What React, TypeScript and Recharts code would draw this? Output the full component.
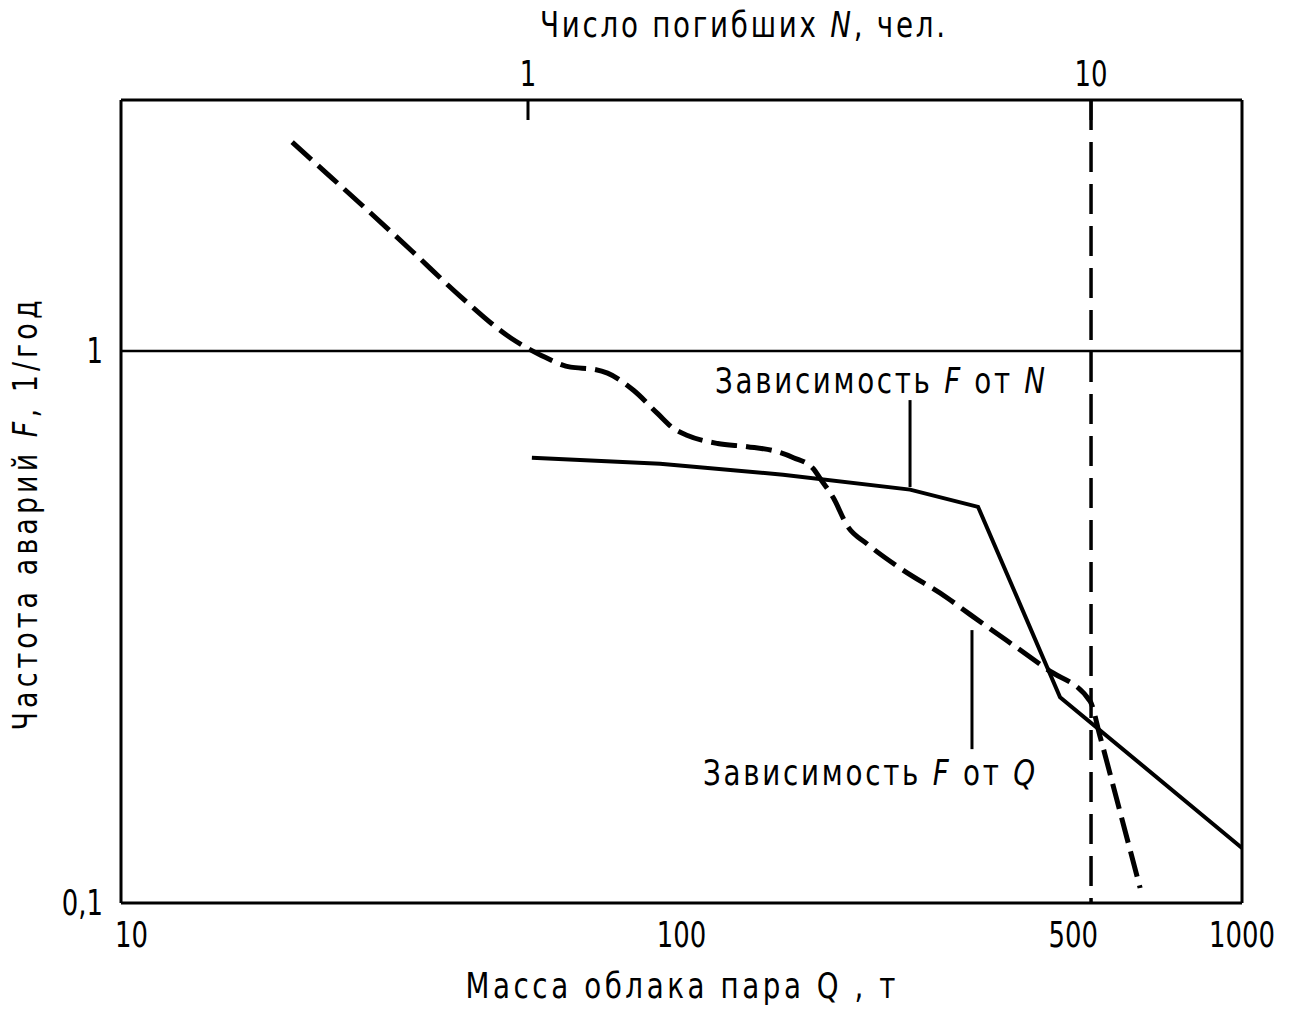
import { Label, Line, LineChart, ReferenceLine, XAxis, YAxis } from 'recharts';

// F vs Q (dashed) — cloud mass Q, t
const fromQ = [
  { q: 20.2, f: 2.39 },
  { q: 22.0, f: 2.21 },
  { q: 26.8, f: 1.845 },
  { q: 33.1, f: 1.515 },
  { q: 40.4, f: 1.254 },
  { q: 49.6, f: 1.056 },
  { q: 56.1, f: 0.983 },
  { q: 63.4, f: 0.935 },
  { q: 69.7, f: 0.927 },
  { q: 73.8, f: 0.912 },
  { q: 82.1, f: 0.849 },
  { q: 90.6, f: 0.771 },
  { q: 96.8, f: 0.724 },
  { q: 102.5, f: 0.703 },
  { q: 116.0, f: 0.68 },
  { q: 131.1, f: 0.671 },
  { q: 148.3, f: 0.657 },
  { q: 158.4, f: 0.641 },
  { q: 171.9, f: 0.612 },
  { q: 176.9, f: 0.587 },
  { q: 186.6, f: 0.542 },
  { q: 197.7, f: 0.482 },
  { q: 214.6, f: 0.447 },
  { q: 245.7, f: 0.404 },
  { q: 298.1, f: 0.357 },
  { q: 327.5, f: 0.333 },
  { q: 449.3, f: 0.265 },
  { q: 535.9, f: 0.232 },
  { q: 558.4, f: 0.2 },
  { q: 606.2, f: 0.146 },
  { q: 658.0, f: 0.1065 },
];

// F vs N (solid) — number of fatalities N
const fromN = [
  { n: 1.016, f: 0.641 },
  { n: 1.716, f: 0.625 },
  { n: 2.838, f: 0.597 },
  { n: 4.77, f: 0.561 },
  { n: 6.3, f: 0.522 },
  { n: 8.81, f: 0.236 },
  { n: 18.54, f: 0.1258 },
];

const qTicks = [10, 100, 500, 1000];
const nTicks = [1, 10];
const fTicks = [0.1, 1];

const qDomain = [10, 1000];
const nDomain = [0.1893, 18.54];
const fDomain = [0.1, 2.85];

// leader lines of the two captions
const leaderN = [{ x: 4.77, y: 0.815 }, { x: 4.77, y: 0.567 }];
const leaderQ = [{ x: 329.8, y: 0.3122 }, { x: 329.8, y: 0.19 }];

const FONT = "'DejaVu Sans Condensed', 'Liberation Sans Narrow', 'DejaVu Sans', sans-serif";
const INK = '#000';

const formatF = (v: number) => String(v).replace('.', ',');

// squeeze glyphs horizontally around an anchor point
const squeeze = (x: number, y: number, k: number) => `translate(${x},${y}) scale(${k},1) translate(${-x},${-y})`;

const TopTick = ({ x, y, payload }: any) => (
  <g>
    <text x={x} y={y - 2} transform={squeeze(x, y, 0.8)} textAnchor="middle" fontFamily={FONT} fontSize={36} fill={INK}>
      {payload.value}
    </text>
    <line x1={x} x2={x} y1={y + 12} y2={y + 32} stroke={INK} strokeWidth={3} />
  </g>
);

const BottomTick = ({ x, y, payload, index }: any) => {
  const tx = index === 0 ? x - 6 : x;
  return (
    <text
      x={tx}
      y={y + 24}
      transform={squeeze(tx, y, 0.8)}
      textAnchor={index === 0 ? 'start' : 'middle'}
      fontFamily={FONT}
      fontSize={36}
      fill={INK}
    >
      {payload.value}
    </text>
  );
};

const LeftTick = ({ x, y, payload }: any) => (
  <text x={x} y={y + 12} transform={squeeze(x, y, 0.8)} textAnchor="end" fontFamily={FONT} fontSize={36} fill={INK}>
    {formatF(payload.value)}
  </text>
);

const K = 0.88;

const TopTitle = ({ viewBox }: any) => {
  const cx = viewBox.x + viewBox.width / 2 + 61;
  const cy = viewBox.y + 37;
  return (
    <text
      x={cx}
      y={cy}
      transform={squeeze(cx, cy, K)}
      textAnchor="middle"
      fontFamily={FONT}
      fontSize={35}
      fill={INK}
      textLength={405 / K}
      lengthAdjust="spacing"
    >
      Число погибших <tspan fontStyle="italic">N</tspan>, чел.
    </text>
  );
};

const BottomTitle = ({ viewBox }: any) => {
  const cx = viewBox.x + viewBox.width / 2 - 1;
  const cy = viewBox.y + 95;
  return (
    <text
      x={cx}
      y={cy}
      transform={squeeze(cx, cy, K)}
      textAnchor="middle"
      fontFamily={FONT}
      fontSize={35}
      fill={INK}
      textLength={430 / K}
      lengthAdjust="spacing"
    >
      Масса облака пара Q , т
    </text>
  );
};

const SideTitle = ({ viewBox }: any) => {
  const cx = 37;
  const cy = viewBox.y + viewBox.height / 2 + 14;
  return (
    <text
      x={cx}
      y={cy}
      transform={`rotate(-90, ${cx}, ${cy}) ${squeeze(cx, cy, K)}`}
      textAnchor="middle"
      fontFamily={FONT}
      fontSize={34}
      fill={INK}
      textLength={430 / K}
      lengthAdjust="spacing"
    >
      Частота аварий <tspan fontStyle="italic">F</tspan>, 1/год
    </text>
  );
};

const CaptionN = ({ viewBox }: any) => {
  const cx = viewBox.x - 30;
  const cy = viewBox.y - 7;
  return (
    <text
      x={cx}
      y={cy}
      transform={squeeze(cx, cy, K)}
      textAnchor="middle"
      fontFamily={FONT}
      fontSize={35}
      fill={INK}
      textLength={330 / K}
      lengthAdjust="spacing"
    >
      Зависимость <tspan fontStyle="italic">F</tspan> от <tspan fontStyle="italic">N</tspan>
    </text>
  );
};

const CaptionQ = ({ viewBox }: any) => {
  const cx = viewBox.x - 103;
  const cy = viewBox.y + viewBox.height + 36;
  return (
    <text
      x={cx}
      y={cy}
      transform={squeeze(cx, cy, K)}
      textAnchor="middle"
      fontFamily={FONT}
      fontSize={35}
      fill={INK}
      textLength={332 / K}
      lengthAdjust="spacing"
    >
      Зависимость <tspan fontStyle="italic">F</tspan> от <tspan fontStyle="italic">Q</tspan>
    </text>
  );
};

export default function App() {
  return (
    <div style={{ position: 'absolute', left: 0, top: 0, width: 1313, height: 1012, background: '#fff' }}>
      <LineChart width={1313} height={1012} margin={{ top: 0, right: 70, bottom: 0, left: 0 }}>
        <XAxis
          xAxisId="q"
          dataKey="q"
          type="number"
          scale="log"
          domain={qDomain}
          ticks={qTicks}
          allowDataOverflow
          orientation="bottom"
          height={109}
          tickSize={0}
          tickMargin={20}
          tick={<BottomTick />}
          axisLine={{ stroke: INK, strokeWidth: 3 }}
          label={<Label content={BottomTitle} />}
        />
        <XAxis
          xAxisId="n"
          dataKey="n"
          type="number"
          scale="log"
          domain={nDomain}
          ticks={nTicks}
          allowDataOverflow
          orientation="top"
          height={100}
          tickSize={0}
          tickMargin={12}
          tick={<TopTick />}
          axisLine={{ stroke: INK, strokeWidth: 3 }}
          label={<Label content={TopTitle} />}
        />
        <YAxis
          yAxisId="f"
          type="number"
          scale="log"
          domain={fDomain}
          ticks={fTicks}
          allowDataOverflow
          width={121}
          tickSize={0}
          tickMargin={18}
          tick={<LeftTick />}
          axisLine={{ stroke: INK, strokeWidth: 3 }}
          label={<Label content={SideTitle} />}
        />
        <YAxis
          yAxisId="r"
          orientation="right"
          type="number"
          scale="log"
          domain={fDomain}
          allowDataOverflow
          width={1}
          tick={false}
          tickLine={false}
          axisLine={{ stroke: INK, strokeWidth: 3 }}
        />
        <ReferenceLine xAxisId="q" yAxisId="f" y={1} stroke={INK} strokeWidth={2.5} />
        <ReferenceLine xAxisId="n" yAxisId="f" x={10} stroke={INK} strokeWidth={3.5} strokeDasharray="30 12" />
        <ReferenceLine
          xAxisId="n"
          yAxisId="f"
          segment={leaderN}
          stroke={INK}
          strokeWidth={3}
          label={<Label content={CaptionN} />}
        />
        <ReferenceLine
          xAxisId="q"
          yAxisId="f"
          segment={leaderQ}
          stroke={INK}
          strokeWidth={3}
          label={<Label content={CaptionQ} />}
        />
        <Line
          xAxisId="q"
          yAxisId="f"
          data={fromQ}
          dataKey="f"
          type="monotone"
          stroke={INK}
          strokeWidth={5}
          strokeDasharray="26 9"
          dot={false}
          isAnimationActive={false}
        />
        <Line
          xAxisId="n"
          yAxisId="f"
          data={fromN}
          dataKey="f"
          type="linear"
          stroke={INK}
          strokeWidth={4}
          dot={false}
          isAnimationActive={false}
        />
      </LineChart>
    </div>
  );
}
